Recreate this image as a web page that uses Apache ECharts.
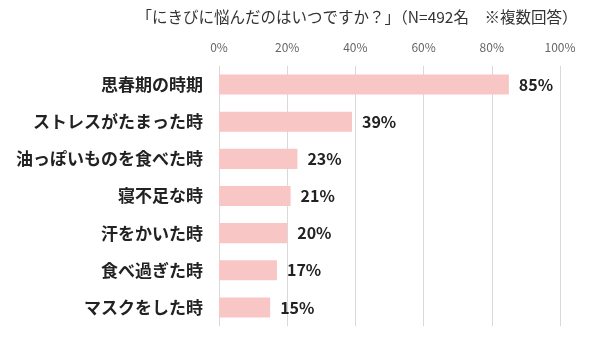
<!DOCTYPE html>
<html>
<head>
<meta charset="utf-8">
<script src="https://cdn.jsdelivr.net/npm/echarts@6/dist/echarts.min.js"></script>
<style>
html,body{margin:0;padding:0;background:#fff;}
#chart{width:600px;height:347px;}
</style>
</head>
<body>
<div id="chart"></div>
<script>
// Survey: when did respondents suffer from acne (multiple answers)
const titleText = '「にきびに悩んだのはいつですか？」（N=492名　※複数回答）';
const categories = ['思春期の時期', 'ストレスがたまった時', '油っぽいものを食べた時', '寝不足な時', '汗をかいた時', '食べ過ぎた時', 'マスクをした時'];
const values = [85, 39, 23, 21, 20, 17, 15];
const tickValues = [0, 20, 40, 60, 80, 100];

const font = '"Noto Sans CJK JP", "Noto Sans", sans-serif';
const chart = echarts.init(document.getElementById('chart'));
chart.setOption({
  animation: false,
  textStyle: { fontFamily: font },
  title: {
    text: titleText,
    left: 352, top: 4, textAlign: 'center',
    textStyle: { fontFamily: font, fontSize: 15.5, fontWeight: 'normal', color: '#333' }
  },
  grid: { left: 219, right: 40, top: 66, bottom: 21, containLabel: false },
  xAxis: {
    type: 'value', position: 'top', min: tickValues[0], max: tickValues[tickValues.length - 1], interval: 20,
    axisLine: { show: false }, axisTick: { show: false },
    splitLine: { lineStyle: { color: '#d9d9d9', width: 1 } },
    axisLabel: { formatter: '{value}%', color: '#666', fontSize: 12, margin: 13, fontFamily: font }
  },
  yAxis: {
    type: 'category', inverse: true, data: categories,
    axisLine: { show: true, lineStyle: { color: '#d9d9d9' } }, axisTick: { show: false },
    axisLabel: { color: '#222', fontSize: 17, fontWeight: 'bold', margin: 16, fontFamily: font }
  },
  series: [{
    type: 'bar', data: values, barCategoryGap: '46%',
    itemStyle: { color: '#F9C6C6' },
    label: { show: true, position: 'right', distance: 10, formatter: '{c}%', color: '#222', fontSize: 16, fontWeight: 'bold', fontFamily: font }
  }]
});
</script>
</body>
</html>
